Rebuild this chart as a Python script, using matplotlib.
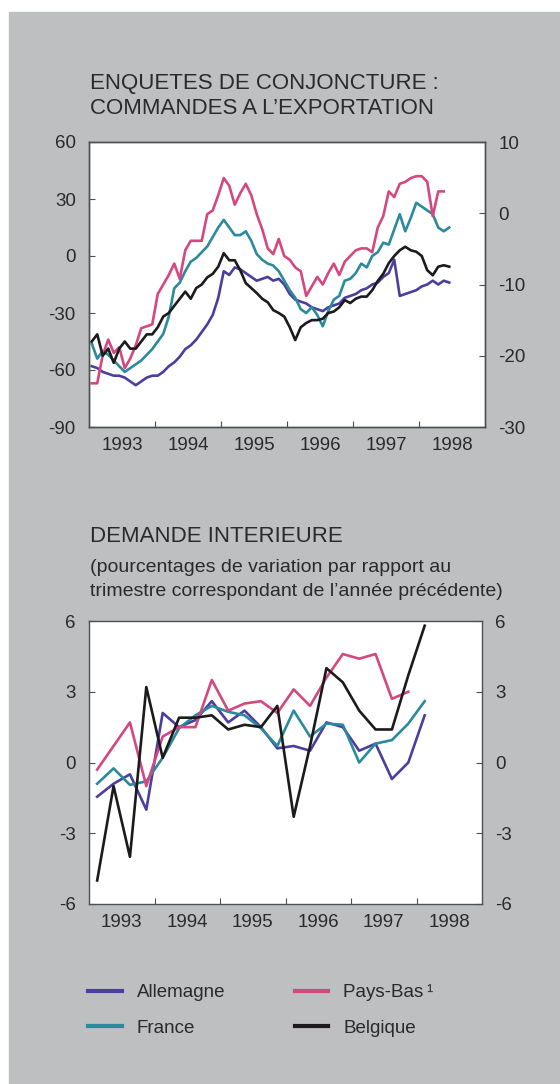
import matplotlib
matplotlib.use('Agg')
import matplotlib.pyplot as plt
from matplotlib.patches import Rectangle

plt.rcParams['font.family'] = ['Liberation Sans', 'DejaVu Sans']
plt.rcParams['axes.unicode_minus'] = False

# ---- data: survey balances, monthly Jan 1993 .. Jun 1998
allemagne_m = [-58, -59, -61, -62, -63, -63, -64, -66, -68, -66, -64, -63,
               -63, -61, -58, -56, -53, -49, -47, -44, -40, -36, -31, -22,
               -8, -10, -6, -7, -9, -11, -13, -12, -11, -13, -12, -15,
               -20, -23, -24, -25, -27, -28, -29, -27, -26, -25, -22, -21,
               -20, -18, -17, -15, -14, -11, -9, -2, -21, -20, -19, -18,
               -16, -15, -13, -15, -13, -14]
france_m = [-46, -54, -50, -52, -55, -58, -61, -59, -57, -55, -52, -49,
            -45, -41, -32, -17, -14, -8, -3, -1, 2, 5, 10, 15,
            19, 15, 11, 11, 13, 8, 1, -2, -4, -5, -8, -13,
            -18, -22, -28, -30, -27, -31, -37, -29, -23, -21, -13, -12,
            -9, -4, -6, 0, 2, 7, 6, 14, 22, 13, 20, 28,
            26, 24, 22, 15, 13, 15]
paysbas_m = [-67, -67, -52, -44, -51, -48, -59, -54, -47, -38, -37, -36,
             -20, -15, -10, -4, -12, 3, 8, 8, 8, 22, 24, 32,
             41, 37, 27, 33, 38, 32, 22, 14, 4, 1, 9, 0,
             -2, -6, -8, -21, -16, -11, -15, -9, -4, -10, -3, 0,
             3, 4, 4, 2, 15, 21, 34, 31, 38, 39, 41, 42,
             42, 39, 21, 34, 34]
# Belgique is read on the right-hand scale
belgique_m = [-18, -17, -20, -19, -21, -19, -18, -19, -19, -18, -17, -17,
              -16, -14.5, -14, -13, -12, -11, -12, -10.5, -10, -9, -8.5, -7.5,
              -5.6, -6.6, -6.6, -8, -9.8, -10.5, -11.2, -12, -12.5, -13.6, -14, -14.5,
              -16, -17.8, -16, -15.4, -15, -15, -14.8, -14, -13.8, -13.2, -12.2, -12.6,
              -12, -11.7, -11.7, -10.8, -9.5, -8.5, -7, -6, -5.2, -4.7, -5.2, -5.4,
              -6, -8, -8.7, -7.5, -7.3, -7.5]

# ---- data: domestic demand, quarterly Q1 1993 .. Q1 1998 (% y/y)
allemagne_q = [-1.45, -0.9, -0.5, -2.0, 2.1, 1.5, 1.8, 2.6, 1.7, 2.2, 1.5,
               0.6, 0.7, 0.5, 1.7, 1.5, 0.5, 0.8, -0.7, 0.0, 2.0]
france_q = [-0.9, -0.25, -0.95, -0.8, 0.2, 1.45, 2.0, 2.4, 2.15, 2.0, 1.45,
            0.7, 2.2, 1.1, 1.65, 1.6, 0.0, 0.8, 0.95, 1.65, 2.6]
paysbas_q = [-0.3, 0.7, 1.7, -1.0, 1.1, 1.5, 1.5, 3.5, 2.2, 2.5, 2.6,
             2.1, 3.1, 2.4, 3.6, 4.6, 4.4, 4.6, 2.7, 3.0]
belgique_q = [-5.0, -1.0, -4.0, 3.2, 0.2, 1.9, 1.9, 2.0, 1.4, 1.6, 1.5,
              2.4, -2.3, 0.7, 4.0, 3.4, 2.2, 1.4, 1.4, 3.7, 5.8]

years = [1993, 1994, 1995, 1996, 1997, 1998]
year_labels = [str(y) for y in years]
top_left_ticks = [-90, -60, -30, 0, 30, 60]
top_right_ticks = [-30, -20, -10, 0, 10]
bottom_ticks = [-6, -3, 0, 3, 6]

names = ['Allemagne', 'France', 'Pays-Bas\u2009\u00b9', 'Belgique']
colors = {'Allemagne': '#4b3f9e', 'France': '#2b8a9c',
          'Pays-Bas': '#d4487f', 'Belgique': '#1c1a1c'}

months = lambda n: [1993 + (i + 0.5) / 12 for i in range(n)]
quarters = lambda n: [1993 + (i + 0.5) / 4 for i in range(n)]

bg = '#bdbfc1'
txt = '#2a2a2a'
spine_c = '#4f4f4f'
lw = 1.9
W, H = 560, 1084

fig = plt.figure(figsize=(W / 100, H / 100), dpi=100)
fig.patch.set_facecolor('white')
fig.patches.append(Rectangle((9 / W, 0), 1 - 9 / W, 1 - 12 / H,
                             transform=fig.transFigure, color=bg, zorder=-10))


def style_axes(ax):
    ax.set_facecolor('white')
    for s in ax.spines.values():
        s.set_color(spine_c)
        s.set_linewidth(1.0)
    ax.set_xlim(1993, 1999)
    ax.set_xticks(years[1:])
    ax.set_xticklabels([])
    ax.set_xticks([y + 0.5 for y in years], minor=True)
    ax.set_xticklabels(year_labels, minor=True)
    ax.tick_params(axis='x', which='major', direction='in', length=4,
                   color=spine_c)
    ax.tick_params(axis='x', which='minor', length=0, pad=7,
                   labelsize=13.5, labelcolor=txt)
    ax.tick_params(axis='y', direction='in', length=4, pad=9.5,
                   labelsize=13.5, labelcolor=txt, color=spine_c)


def ytop(px):
    return 1 - px / H


# ---- top chart
fig.text(90 / W, ytop(83), 'ENQUETES DE CONJONCTURE :', fontsize=16,
         color=txt, va='center')
fig.text(90 / W, ytop(108), 'COMMANDES A L\u2019EXPORTATION', fontsize=16,
         color=txt, va='center')

ax1 = fig.add_axes([89 / W, ytop(427), 396 / W, 285 / H])
style_axes(ax1)
ax1.set_ylim(-90, 60)
ax1.set_yticks(top_left_ticks)
ax1.plot(months(len(allemagne_m)), allemagne_m, color=colors['Allemagne'], lw=lw)
ax1.plot(months(len(france_m)), france_m, color=colors['France'], lw=lw)
ax1.plot(months(len(paysbas_m)), paysbas_m, color=colors['Pays-Bas'], lw=lw)

ax2 = ax1.twinx()
ax2.set_ylim(-30, 10)
ax2.set_yticks(top_right_ticks)
for s in ax2.spines.values():
    s.set_color(spine_c)
    s.set_linewidth(1.0)
ax2.tick_params(axis='y', direction='in', length=4, pad=9.5,
                labelsize=13.5, labelcolor=txt, color=spine_c)
ax2.plot(months(len(belgique_m)), belgique_m, color=colors['Belgique'], lw=lw)

# ---- bottom chart
fig.text(90 / W, ytop(537), 'DEMANDE INTERIEURE', fontsize=16,
         color=txt, va='center')
fig.text(90 / W, ytop(568), '(pourcentages de variation par rapport au',
         fontsize=14, color=txt, va='center')
fig.text(90 / W, ytop(592), 'trimestre correspondant de l\u2019ann\u00e9e pr\u00e9c\u00e9dente)',
         fontsize=14, color=txt, va='center')

ax3 = fig.add_axes([89 / W, ytop(904), 393 / W, 283 / H])
style_axes(ax3)
ax3.set_ylim(-6, 6)
ax3.set_yticks(bottom_ticks)
ax3.tick_params(axis='y', right=True, labelright=True)
h1, = ax3.plot(quarters(len(allemagne_q)), allemagne_q, color=colors['Allemagne'], lw=lw)
h2, = ax3.plot(quarters(len(france_q)), france_q, color=colors['France'], lw=lw)
h3, = ax3.plot(quarters(len(paysbas_q)), paysbas_q, color=colors['Pays-Bas'], lw=lw)
h4, = ax3.plot(quarters(len(belgique_q)), belgique_q, color=colors['Belgique'], lw=lw)

leg = fig.legend([h1, h2, h3, h4], names, loc='upper left',
                 bbox_to_anchor=(88 / W, ytop(984)), ncol=2, frameon=False,
                 fontsize=13.5, handlelength=1.8, handletextpad=0.8,
                 columnspacing=3.7, labelspacing=1.0, borderpad=0,
                 borderaxespad=0)
for t in leg.get_texts():
    t.set_color(txt)
for l in leg.get_lines():
    l.set_linewidth(3)

fig.savefig('out.png', dpi=100)
